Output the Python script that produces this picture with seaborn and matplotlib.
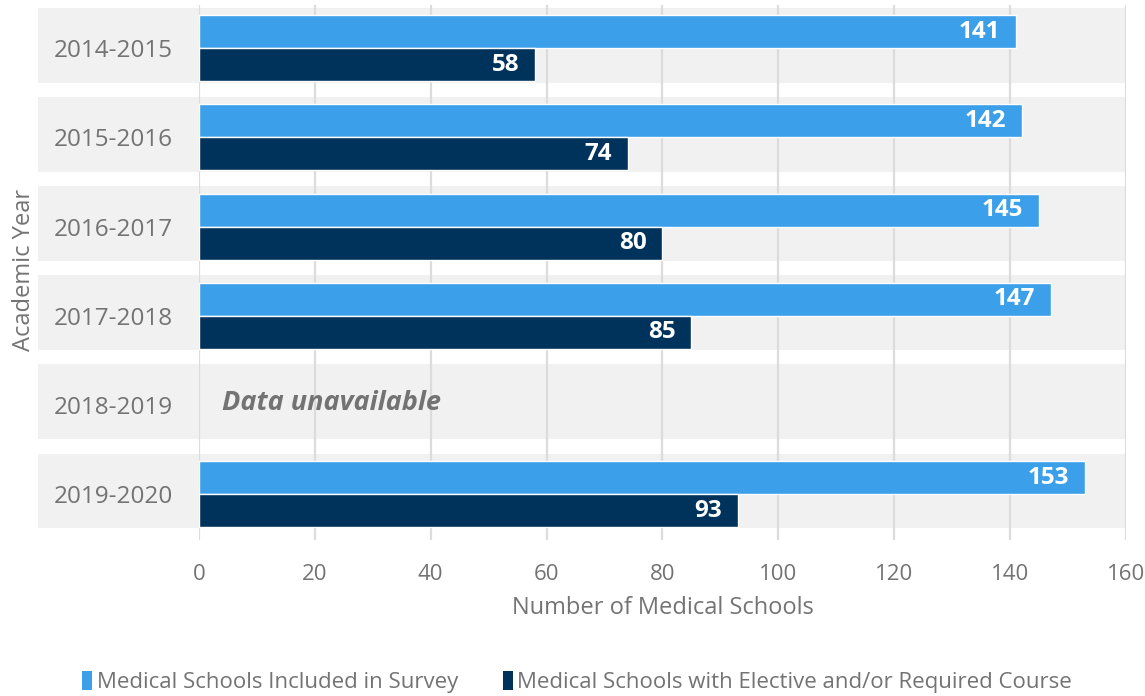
import numpy as np
import pandas as pd
import matplotlib.pyplot as plt
import seaborn as sns
from matplotlib.patches import Rectangle, Patch
from matplotlib.transforms import blended_transform_factory

years = ['2014-2015', '2015-2016', '2016-2017', '2017-2018', '2018-2019', '2019-2020']
included = [141, 142, 145, 147, np.nan, 153]
with_course = [58, 74, 80, 85, np.nan, 93]
series_names = ['Medical Schools Included in Survey',
                'Medical Schools with Elective and/or Required Course']
colors = ['#3B9FEA', '#00335B']
x_ticks = [0, 20, 40, 60, 80, 100, 120, 140, 160]

text_grey = '#737373'

df = pd.DataFrame({
    'year': years * 2,
    'count': included + with_course,
    'series': [series_names[0]] * len(years) + [series_names[1]] * len(years),
})

sns.set_style('white')
plt.rcParams['font.family'] = ['Open Sans', 'DejaVu Sans']

fig = plt.figure(figsize=(11.45, 6.96), dpi=100)
ax = fig.add_axes([0.1738, 0.2241, 0.8096, 0.7687])

sns.barplot(data=df, y='year', x='count', hue='series', order=years,
            hue_order=series_names, palette=colors, orient='h',
            width=0.74, saturation=1, legend=False, ax=ax, zorder=2)

# grey band behind each category, running into the label area
band_tr = blended_transform_factory(ax.transData, ax.transData)
for i in range(len(years)):
    ax.add_patch(Rectangle((-27.8, i - 0.455), 187.6, 0.84, transform=band_tr,
                           facecolor='#F1F1F1', edgecolor='none',
                           clip_on=False, zorder=0.1))

for cont in ax.containers:
    for t in ax.bar_label(cont, fmt='%d', padding=-11.5, color='white',
                          fontsize=17.5, fontweight='bold'):
        t.set_ha('right')

ax.text(4, years.index('2018-2019') - 0.02, 'Data unavailable', color=text_grey,
        fontsize=19.5, fontweight='bold', fontstyle='italic', va='center', ha='left')

ax.set_xlim(0, 160)
ax.set_ylim(5.515, -0.485)
ax.set_xticks(x_ticks)
ax.set_xticklabels([str(v) for v in x_ticks])
ax.grid(axis='x', color='#DCDCDC', linewidth=1.6, zorder=0.5)
ax.grid(axis='y', visible=False)
ax.set_axisbelow(True)
for s in ax.spines.values():
    s.set_visible(False)
ax.tick_params(axis='x', length=0, pad=17, labelsize=16, labelcolor=text_grey)
ax.tick_params(axis='y', length=0, pad=19, labelsize=17.5, labelcolor=text_grey)

ax.set_xlabel('Number of Medical Schools', fontsize=17, color=text_grey)
ax.set_ylabel('Academic Year', fontsize=17, color=text_grey)
ax.xaxis.set_label_coords(0.5, -0.105)
ax.yaxis.set_label_coords(-0.176, 0.505)

handles = [Patch(facecolor=c, edgecolor='none') for c in colors]
fig.legend(handles, series_names, loc='center', bbox_to_anchor=(0.504, 0.02),
           ncol=2, frameon=False, fontsize=16, labelcolor=text_grey,
           handlelength=0.45, handleheight=0.9, handletextpad=0.2,
           columnspacing=2.0)

fig.savefig('out.png', dpi=100)
